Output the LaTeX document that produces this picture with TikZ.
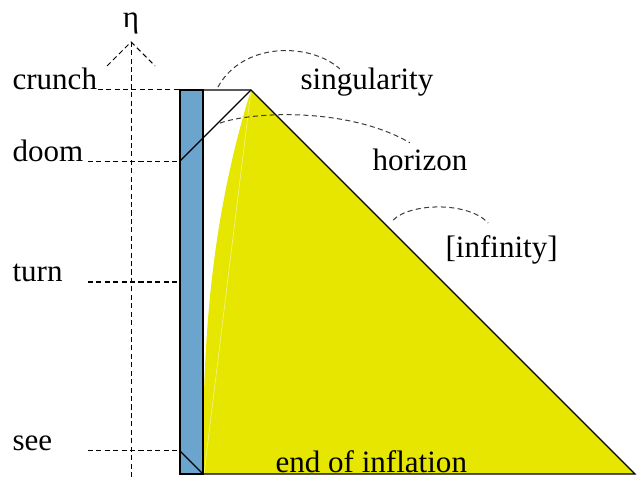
\documentclass[tikz,border=0pt]{standalone}
\usepackage{fontspec}
\setmainfont{Liberation Serif}
\usepackage{xcolor}
\usetikzlibrary{arrows.meta, positioning, calc}
\definecolor{wallblue}{RGB}{107, 164, 204}
\definecolor{bubbleyellow}{RGB}{230, 230, 0}
\definecolor{pointergray}{RGB}{60, 60, 60}
\tikzset{
    guide/.style={dash pattern=on 3pt off 2pt, line width=0.6pt},
    pointer/.style={guide, pointergray},
    lbl/.style={font=\fontsize{18.4}{22}\selectfont, inner sep=0pt},
}

\begin{document}
\begin{tikzpicture}[line width=0.7pt, >=Stealth]
    \useasboundingbox (-3.75,-0.0625) rectangle (9.604,9.875);
    \coordinate (O) at (0,0);
    \coordinate (W) at (0.48,0);
    \coordinate (top) at (0,8);
    \coordinate (apex) at (1.48,8);
    \coordinate (far) at (9.48,0);
    \coordinate (tip) at (-1.02,9);
    \coordinate (axisbot) at (-1.02,-0.0625);
    \fill[bubbleyellow] (W) -- plot[domain=0:8, samples=40, variable=\t] ({0.48+pow(\t/8,2.5)},\t) -- (far) -- cycle;
    \draw[white, opacity=0.5, line width=0.4pt] (apex) -- (0.5,0);
    \filldraw[fill=wallblue, draw=black] (O) rectangle (0.48,8);
    \draw (top) -- (apex) -- (far) -- (O);
    \draw (0,6.52) -- (apex);
    \draw (0,0.48) -- (W);
    \node[lbl, anchor=base] (eta) at (-1.02,9.31) {η};
    \draw[guide] (axisbot) -- (tip);
    \draw[guide] (-1.52,8.5) -- (tip) -- (-0.52,8.5);
    \node[lbl, anchor=base west] (crunch) at (-3.5,8) {crunch};
    \node[lbl, anchor=base west] (doom) at (-3.5,6.52) {doom};
    \node[lbl, anchor=base west] (turn) at (-3.5,4) {turn};
    \node[lbl, anchor=base west] (see) at (-3.5,0.48) {see};
    \draw[guide] (crunch.base east) -- (top);
    \draw[guide] (doom.base -| -1.92,0) -- (doom.base -| O);
    \draw[guide] (turn.base -| -1.92,0) -- (turn.base -| O);
    \draw[guide] (see.base -| -1.92,0) -- (see.base -| O);
    \node[lbl, anchor=base west] (sing) at (2.5,8) {singularity};
    \node[lbl, anchor=base west] (hor) at (4.0,6.33) {horizon};
    \node[lbl, anchor=base west] (inf) at (5.52,4.52) {[infinity]};
    \node[lbl, anchor=base west] (eoi) at (1.98,0.04) {end of inflation};
    \coordinate (singA) at (0.79,8.06);
    \coordinate (singB) at (3.33,8.44);
    \coordinate (horA) at (0.83,7.31);
    \coordinate (horB) at (4.79,6.9);
    \coordinate (infA) at (4.44,5.29);
    \coordinate (infB) at (6.42,5.23);
    \draw[pointer] (singA) .. controls (1.3,9.0) and (2.7,9.0) .. (singB);
    \draw[pointer] (horA) .. controls (1.5,7.55) and (3.5,7.65) .. (horB);
    \draw[pointer] (infA) .. controls (4.8,5.65) and (6.0,5.68) .. (infB);
\end{tikzpicture}
\end{document}
